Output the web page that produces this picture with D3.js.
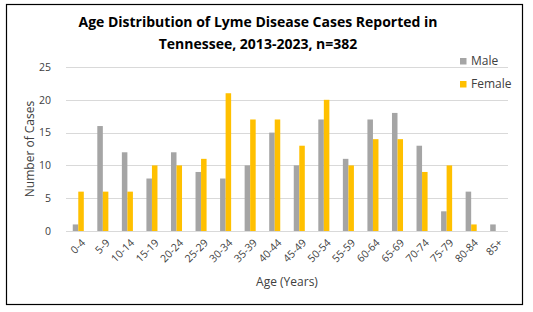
<!DOCTYPE html>
<html>
<head>
<meta charset="utf-8">
<script src="https://cdn.jsdelivr.net/npm/d3@7"></script>
<style>
  body { margin: 0; background: #fff; }
  text { font-family: "Open Sans", sans-serif; }
</style>
</head>
<body>
<svg width="533" height="312"></svg>
<script>
const ageGroups = ["0-4", "5-9", "10-14", "15-19", "20-24", "25-29", "30-34", "35-39", "40-44",
  "45-49", "50-54", "55-59", "60-64", "65-69", "70-74", "75-79", "80-84", "85+"];
const male = [1, 16, 12, 8, 12, 9, 8, 10, 15, 10, 17, 11, 17, 18, 13, 3, 6, 1];
const female = [6, 6, 6, 10, 10, 11, 21, 17, 17, 13, 20, 10, 14, 14, 9, 10, 1, 0];
const yTicks = [0, 5, 10, 15, 20, 25];
const seriesNames = ["Male", "Female"];

const colors = { Male: "#a5a5a5", Female: "#ffc000" };
const rows = ageGroups.map((g, i) => ({ group: g, Male: male[i], Female: female[i] }));

const svg = d3.select("svg");
const margin = { left: 66, right: 508, top: 67, bottom: 231 };

// frame
svg.append("rect")
  .attr("x", 6.5).attr("y", 4.5)
  .attr("width", 516).attr("height", 300)
  .attr("fill", "none").attr("stroke", "#000").attr("stroke-width", 1.2);

const x = d3.scaleBand().domain(ageGroups).range([margin.left, margin.right]).paddingInner(0.55).paddingOuter(0.275);
const xs = d3.scaleBand().domain(seriesNames).range([0, x.bandwidth()]);
const y = d3.scaleLinear().domain([0, 25]).range([margin.bottom, margin.top]);

// gridlines
svg.append("g")
  .selectAll("line")
  .data(yTicks)
  .join("line")
  .attr("x1", margin.left).attr("x2", margin.right)
  .attr("y1", (d) => Math.round(y(d)) + 0.5).attr("y2", (d) => Math.round(y(d)) + 0.5)
  .attr("stroke", "#d9d9d9").attr("stroke-width", 1);

// y axis
svg.append("g")
  .attr("transform", `translate(${margin.left - 10},0)`)
  .call(d3.axisLeft(y).tickValues(yTicks).tickSize(0))
  .call((g) => g.select(".domain").remove())
  .call((g) => g.selectAll("text").attr("fill", "#404040").style("font-size", "10.5px").attr("dx", "-2"));

// bars
svg.append("g")
  .selectAll("g")
  .data(rows)
  .join("g")
  .attr("transform", (d) => `translate(${x(d.group)},0)`)
  .selectAll("rect")
  .data((d) => seriesNames.map((k) => ({ key: k, value: d[k] })))
  .join("rect")
  .attr("x", (d) => xs(d.key))
  .attr("width", xs.bandwidth())
  .attr("y", (d) => y(d.value))
  .attr("height", (d) => y(0) - y(d.value))
  .attr("fill", (d) => colors[d.key]);

// x axis labels
svg.append("g")
  .attr("transform", `translate(0,${margin.bottom})`)
  .call(d3.axisBottom(x).tickSize(0))
  .call((g) => g.select(".domain").remove())
  .call((g) => g.selectAll("text")
    .attr("fill", "#404040")
    .style("font-size", "10.5px")
    .attr("text-anchor", "end")
    .attr("transform", "translate(5,10) rotate(-45)")
    .attr("y", 0).attr("dy", "0.35em"));

// titles
svg.append("text")
  .attr("x", 258).attr("y", 27)
  .attr("text-anchor", "middle")
  .style("font-size", "14px").style("font-weight", "bold").attr("fill", "#000")
  .text("Age Distribution of Lyme Disease Cases Reported in");
svg.append("text")
  .attr("x", 258).attr("y", 49)
  .attr("text-anchor", "middle")
  .style("font-size", "14px").style("font-weight", "bold").attr("fill", "#000")
  .text("Tennessee, 2013-2023, n=382");

svg.append("text")
  .attr("transform", "translate(34,149) rotate(-90)")
  .attr("text-anchor", "middle")
  .style("font-size", "12px").attr("fill", "#404040")
  .text("Number of Cases");

svg.append("text")
  .attr("x", 287).attr("y", 286)
  .attr("text-anchor", "middle")
  .style("font-size", "12px").attr("fill", "#404040")
  .text("Age (Years)");

// legend
const legend = svg.append("g")
  .selectAll("g")
  .data(seriesNames)
  .join("g")
  .attr("transform", (d, i) => `translate(460,${58 + i * 23})`);
legend.append("rect").attr("width", 6.5).attr("height", 6.5).attr("fill", (d) => colors[d]);
legend.append("text")
  .attr("x", 11).attr("y", 3).attr("dy", "0.35em")
  .style("font-size", "12px").attr("fill", "#404040")
  .text((d) => d);
</script>
</body>
</html>
